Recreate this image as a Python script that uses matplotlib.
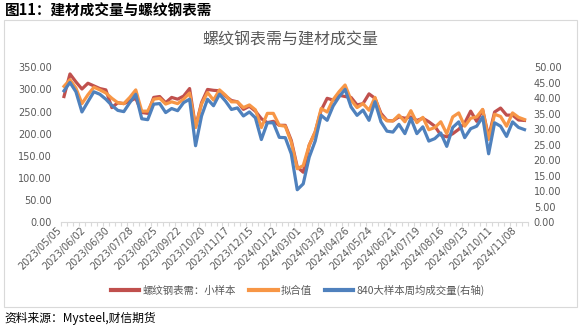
import numpy as np
import pandas as pd
import matplotlib
matplotlib.use('Agg')
import matplotlib.pyplot as plt
from matplotlib.patches import Rectangle
from matplotlib.lines import Line2D

plt.rcParams['font.family'] = ['Noto Sans CJK SC', 'DejaVu Sans']

# weekly dates, Spring Festival weeks missing in the source
dates = pd.date_range('2023-05-05', '2024-11-15', freq='7D')
dates = dates[~dates.isin(pd.to_datetime(['2024-02-09', '2024-02-16', '2024-02-23']))]
tick_labels = [d.strftime('%Y/%m/%d') for d in dates[::4]]

# 螺纹钢表需：小样本 (left axis)
rebar_demand = [284, 335, 317, 301, 314, 308, 302, 299, 259, 270,
                268, 274, 280, 248, 246, 282, 284, 270, 282, 278,
                285, 302, 215, 270, 300, 298, 297, 285, 275, 272,
                255, 262, 251, 234, 225, 228, 219, 219, 185, 125,
                113, 174, 204, 253, 280, 276, 287, 284, 282, 265,
                268, 290, 280, 246, 230, 229, 238, 235, 238, 230,
                235, 227, 217, 197, 193, 200, 210, 224, 251, 228,
                254, 193, 249, 258, 242, 242, 231, 230]

# 拟合值 (left axis)
fitted = [307, 322, 303, 268, 288, 305, 299, 292, 280, 270,
          268, 282, 299, 251, 251, 278, 280, 267, 272, 268,
          278, 292, 214, 267, 293, 276, 299, 287, 272, 272,
          259, 265, 254, 214, 246, 246, 219, 217, 181, 121,
          128, 174, 204, 257, 249, 277, 295, 310, 276, 259,
          268, 253, 282, 241, 229, 229, 242, 227, 252, 225,
          237, 209, 214, 227, 200, 238, 247, 217, 235, 238,
          255, 187, 244, 239, 217, 247, 237, 232]

# 840大样本周均成交量 (right axis)
volume_840 = [42.4, 45.1, 42.1, 35.6, 38.9, 42.1, 41.3, 39.7, 37.7, 36.1,
              35.7, 38.6, 41.3, 33.4, 33.1, 38.1, 38.3, 35.4, 36.7, 36.0,
              38.6, 39.7, 24.7, 34.3, 39.7, 37.6, 41.3, 39.1, 36.4, 36.9,
              34.3, 35.6, 33.7, 26.7, 32.1, 32.1, 27.4, 27.3, 22.1, 10.5,
              12.4, 21.0, 26.2, 34.5, 32.9, 37.5, 40.5, 42.9, 37.2, 34.5,
              36.2, 32.9, 38.9, 32.4, 29.4, 29.1, 31.6, 28.6, 33.5, 28.6,
              30.8, 26.2, 27.0, 28.8, 24.5, 30.6, 32.4, 27.3, 30.2, 31.0,
              34.0, 22.1, 32.1, 31.0, 27.7, 32.4, 30.6, 29.9]

RED = '#C0504D'
ORANGE = '#F79646'
BLUE = '#4F81BD'
GREY = '#595959'
LINEGREY = '#D9D9D9'

W, H = 582, 325
fig = plt.figure(figsize=(W / 100, H / 100), dpi=100)

ax = fig.add_axes([61 / W, 1 - 222.3 / H, (527.5 - 61) / W, (222.3 - 67.3) / H])
x = np.arange(len(dates))
ax.plot(x, rebar_demand, color=RED, lw=2.3, solid_joinstyle='round')
ax.plot(x, fitted, color=ORANGE, lw=2.3, solid_joinstyle='round')
ax2 = ax.twinx()
ax2.plot(x, volume_840, color=BLUE, lw=2.3, solid_joinstyle='round')

ax.set_xlim(-0.5, len(dates) - 0.5)
ax.set_ylim(0, 350)
ax2.set_ylim(0, 50)

for s in ['top', 'left', 'right']:
    ax.spines[s].set_visible(False)
ax.spines['bottom'].set_color(LINEGREY)
for s in ax2.spines.values():
    s.set_visible(False)

ax.set_yticks(np.arange(0, 351, 50))
ax.set_yticklabels(['%.2f' % v for v in np.arange(0, 351, 50)])
ax.tick_params(axis='y', length=0, pad=6.5, labelsize=7, labelcolor=GREY)
ax2.set_yticks(np.arange(0, 51, 5))
ax2.set_yticklabels(['%.2f' % v for v in np.arange(0, 51, 5)])
ax2.tick_params(axis='y', length=0, pad=4.5, labelsize=7, labelcolor=GREY)
for lab in ax.get_yticklabels() + ax2.get_yticklabels():
    lab.set_fontfamily('DejaVu Sans')

ax.set_xticks(x[::4])
ax.set_xticklabels(tick_labels, rotation=45, ha='right', va='top')
ax.set_xticks(np.arange(-0.5, len(dates), 1), minor=True)
ax.tick_params(axis='x', which='major', length=0, pad=2, labelsize=7, labelcolor=GREY)
ax.tick_params(axis='x', which='minor', length=3, color=LINEGREY, width=0.8)
for lab in ax.get_xticklabels():
    lab.set_fontfamily('DejaVu Sans')

# frame, titles, legend, source
fig.add_artist(Rectangle((4 / W, 1 - 307 / H), 573 / W, 287 / H, transform=fig.transFigure,
                         fill=False, edgecolor=LINEGREY, lw=0.8))
fig.text(5 / W, 1 - 11 / H, '图11：建材成交量与螺纹钢表需', fontsize=10.5, fontweight='bold', va='center')
fig.text(290 / W, 1 - 40 / H, '螺纹钢表需与建材成交量', fontsize=11.5, color=GREY, ha='center', va='center')

handles = [Line2D([], [], color=RED, lw=3),
           Line2D([], [], color=ORANGE, lw=3),
           Line2D([], [], color=BLUE, lw=3)]
labels = ['螺纹钢表需：小样本', '拟合值', '840大样本周均成交量(右轴)']
leg = fig.legend(handles, labels, loc='center', bbox_to_anchor=(298 / W, 1 - 290 / H), ncol=3,
                 frameon=False, fontsize=7.5, handlelength=2.7, handletextpad=0.3, columnspacing=1.3)
for t in leg.get_texts():
    t.set_color(GREY)

fig.text(4 / W, 1 - 318 / H, '资料来源：Mysteel,财信期货', fontsize=8.5, style='italic', va='center')

fig.savefig('out.png', dpi=100)
